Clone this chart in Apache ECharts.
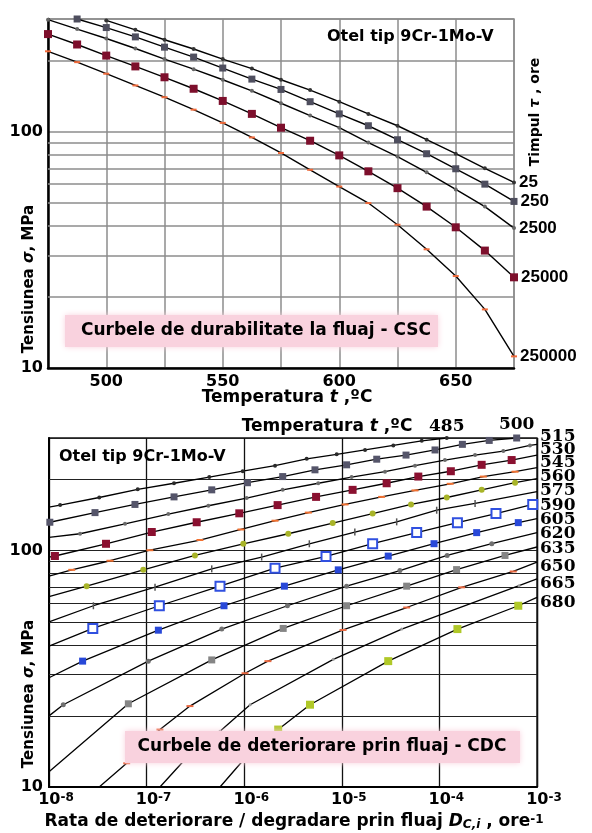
<!DOCTYPE html>
<html>
<head>
<meta charset="utf-8">
<script src="https://cdn.jsdelivr.net/npm/echarts@6/dist/echarts.min.js"></script>
<style>
html, body { margin: 0; padding: 0; background: #fff; }
#main { width: 592px; height: 833px; }
</style>
</head>
<body>
<div id="main"></div>
<script>
// ---- top chart: stress vs temperature, one curve per rupture time ----
var temps = [475, 487.5, 500, 512.5, 525, 537.5, 550, 562.5, 575, 587.5, 600, 612.5, 625, 637.5, 650, 662.5, 675];
var tau25 = [null, null, 296, 270, 245, 224, 203, 185, 166, 150, 134, 119, 106, 92.5, 80.7, 70, 61];
var tau250 = [null, 300, 276, 252, 228, 207, 186, 167, 151, 134, 119, 106, 92.5, 80.7, 69.7, 60, 50.7];
var tau2500 = [298, 272, 248, 225, 203, 184, 166, 149, 132, 117, 104, 90, 78.5, 67.3, 57, 48.2, 39.1];
var tau25000 = [259, 234, 210, 189, 170, 152, 135, 119, 104, 91.6, 79.4, 68, 57.7, 48.2, 39.4, 31.4, 24.2];
var tau250000 = [219, 197, 176, 157, 140, 124, 109, 94.6, 81.3, 69, 58.6, 49.9, 40.4, 31.8, 24.5, 17.7, 11.2];
var tauNames = ['25', '250', '2500', '25000', '250000'];

// minor gridlines (both charts)
var stressGrid = [20, 30, 40, 50, 60, 70, 80, 90, 200];

// ---- bottom chart: stress vs damage rate, one curve per temperature ----
var rate485 = [1e-8, 1.30e-8, 3.27e-8, 8.11e-8, 1.91e-7, 4.39e-7, 9.66e-7, 2.07e-6, 4.37e-6, 8.87e-6, 1.73e-5, 3.37e-5, 6.59e-5, 1.19e-4];
var stress485 = [153, 156, 168, 182, 193, 205, 217, 229, 245, 256, 267, 279, 292, 300];
var rate500 = [1.02e-8, 2.96e-8, 7.6e-8, 1.91e-7, 4.65e-7, 1.08e-6, 2.48e-6, 5.31e-6, 1.12e-5, 2.28e-5, 4.55e-5, 9.02e-5, 1.72e-4, 3.24e-4, 6.19e-4];
var stress500 = [132, 145, 157, 169, 181, 194, 206, 220, 231, 244, 254, 267, 282, 293, 300];
var rate515 = [1e-8, 2.08e-8, 6.01e-8, 1.67e-7, 4.29e-7, 1.06e-6, 2.48e-6, 5.74e-6, 1.26e-5, 2.77e-5, 5.62e-5, 1.14e-4, 2.32e-4, 4.52e-4, 8.47e-4, 1e-3];
var stress515 = [114, 118, 130, 143, 155, 167, 181, 193, 205, 216, 229, 242, 254, 264, 279, 282];
var rate530 = [1e-8, 1.15e-8, 3.84e-8, 1.13e-7, 3.26e-7, 8.91e-7, 2.2e-6, 5.45e-6, 1.29e-5, 2.88e-5, 6.08e-5, 1.31e-4, 2.71e-4, 5.5e-4, 1e-3];
var stress530 = [94, 95, 107, 120, 132, 144, 156, 169, 181, 193, 206, 217, 231, 242, 254];
var rate545 = [1e-8, 1.71e-8, 4.22e-8, 1.08e-7, 3.52e-7, 9.27e-7, 2.07e-6, 4.54e-6, 1.08e-5, 2.56e-5, 5.62e-5, 1.29e-4, 2.82e-4, 5.96e-4, 1e-3];
var stress545 = [78, 83, 90.7, 100.5, 111, 123, 134, 145, 157, 169, 180, 192, 206, 216, 225];
var rate560 = [1e-8, 2.43e-8, 9.25e-8, 3.13e-7, 9.8e-7, 2.83e-6, 8.07e-6, 2.07e-5, 5.12e-5, 1.19e-4, 2.71e-4, 5.96e-4, 1e-3];
var stress560 = [63.9, 70.8, 83, 95.5, 107, 118, 131, 143.6, 157, 168, 181, 194, 202];
var rate575 = [1e-8, 2.85e-8, 1.22e-7, 4.65e-7, 1.51e-6, 4.65e-6, 1.36e-5, 3.65e-5, 9.38e-5, 2.32e-4, 1e-3];
var stress575 = [50, 58.5, 70.1, 83.8, 94, 107, 120, 132.5, 148.4, 158.5, 178];
var rate590 = [1e-8, 2.81e-8, 1.35e-7, 5.65e-7, 2.07e-6, 6.89e-6, 2.07e-5, 5.85e-5, 1.53e-4, 3.8e-4, 9.04e-4, 1e-3];
var stress590 = [39.5, 46.9, 58.5, 70.8, 84.4, 94.6, 107.1, 119.3, 131.5, 143.6, 157, 158.5];
var rate605 = [1e-8, 2.21e-8, 1.32e-7, 6.21e-7, 2.58e-6, 9.2e-6, 2.99e-5, 8.81e-5, 2.41e-4, 6.43e-4, 1e-3];
var stress605 = [29, 34.1, 46.1, 58.5, 70.8, 83, 94.9, 107.1, 119.3, 131.5, 136.8];
var rate620 = [1e-8, 1.4e-8, 1.04e-7, 5.89e-7, 2.77e-6, 1.12e-5, 3.94e-5, 1.2e-4, 3.44e-4, 1e-3];
var stress620 = [20, 22.3, 34.1, 46.6, 58.5, 70.8, 82.4, 95.5, 107.1, 119.3];
var rate635 = [1e-8, 6.5e-8, 4.65e-7, 2.51e-6, 1.12e-5, 4.62e-5, 1.5e-4, 4.7e-4, 1e-3];
var stress635 = [11.6, 22.5, 34.5, 46.9, 58.5, 70.8, 83.2, 95.5, 103.7];
var rate650 = [3.27e-8, 6.25e-8, 1.37e-7, 2.78e-7, 1.02e-6, 1.75e-6, 1.03e-5, 4.62e-5, 1.69e-4, 5.71e-4, 1e-3];
var stress650 = [10, 12.6, 17.5, 22, 30.3, 34.1, 46.2, 57.5, 70, 81.7, 89.5];
var rate665 = [1.37e-7, 2.83e-7, 5.65e-7, 1.15e-6, 8.19e-6, 4.11e-5, 6.55e-4, 1e-3];
var stress665 = [10, 13.9, 17.2, 22.3, 34.7, 46.6, 71.1, 76];
var rate680 = [5.65e-7, 1.06e-6, 2.23e-6, 4.72e-6, 2.99e-5, 1.53e-4, 6.43e-4, 1e-3];
var stress680 = [10, 13.5, 17.5, 22.3, 34.1, 46.6, 58.5, 63.5];

var SANS = '"DejaVu Sans", sans-serif';
var ARIAL = '"Liberation Sans", Arial, sans-serif';
var SERIF = '"DejaVu Serif", serif';

var topStyles = [
  { symbol: 'circle', size: 4, color: '#333' },
  { symbol: 'rect', size: 7, color: '#4e4e5e' },
  { symbol: 'circle', size: 4, color: '#666' },
  { symbol: 'rect', size: 8, color: '#7d0f2c' },
  { symbol: 'rect', size: [6, 2], color: '#f06a3a' }
];

var bottomCurves = [
  { name: '485', rate: rate485, stress: stress485, symbol: 'circle', size: 4, color: '#2a2a2a', dy: 0 },
  { name: '500', rate: rate500, stress: stress500, symbol: 'rect', size: 7, color: '#55556a', dy: 0 },
  { name: '515', rate: rate515, stress: stress515, symbol: 'circle', size: 4, color: '#6a6a6a', dy: -8 },
  { name: '530', rate: rate530, stress: stress530, symbol: 'rect', size: 8, color: '#8a1030', dy: -6 },
  { name: '545', rate: rate545, stress: stress545, symbol: 'rect', size: [7, 2], color: '#f07030', dy: -5 },
  { name: '560', rate: rate560, stress: stress560, symbol: 'circle', size: 6, color: '#a8b428', dy: -2 },
  { name: '575', rate: rate575, stress: stress575, symbol: 'rect', size: [1.5, 7], color: '#555', dy: -1 },
  { name: '590', rate: rate590, stress: stress590, symbol: 'emptyRect', size: 9, color: '#3050e0', dy: 2 },
  { name: '605', rate: rate605, stress: stress605, symbol: 'rect', size: 7, color: '#2848d8', dy: 1 },
  { name: '620', rate: rate620, stress: stress620, symbol: 'circle', size: 5, color: '#707070', dy: 1 },
  { name: '635', rate: rate635, stress: stress635, symbol: 'rect', size: 7, color: '#858585', dy: 2 },
  { name: '650', rate: rate650, stress: stress650, symbol: 'rect', size: [7, 2], color: '#e86840', dy: 4 },
  { name: '665', rate: rate665, stress: stress665, symbol: 'circle', size: 3, color: '#999', dy: 5 },
  { name: '680', rate: rate680, stress: stress680, symbol: 'rect', size: 8, color: '#b0c828', dy: 5 }
];

var minorRates = [];
for (var e = -8; e < -3; e++) {
  for (var m = 2; m < 10; m++) minorRates.push(m * Math.pow(10, e));
}

var series = [];

// gridline carriers
series.push({
  type: 'line', xAxisIndex: 0, yAxisIndex: 0, data: [], silent: true,
  markLine: {
    silent: true, symbol: 'none', z: 1, animation: false, label: { show: false },
    lineStyle: { color: '#8c8c8c', width: 1.5, type: 'solid' },
    data: stressGrid.map(function (v) { return { yAxis: v }; })
  }
});
series.push({
  type: 'line', xAxisIndex: 1, yAxisIndex: 1, data: [], silent: true,
  markLine: {
    silent: true, symbol: 'none', z: 1, animation: false, label: { show: false },
    lineStyle: { color: '#bdbdbd', width: 1, type: 'solid' },
    data: minorRates.map(function (v) { return { xAxis: v }; })
  }
});
series.push({
  type: 'line', xAxisIndex: 1, yAxisIndex: 1, data: [], silent: true,
  markLine: {
    silent: true, symbol: 'none', z: 1, animation: false, label: { show: false },
    lineStyle: { color: '#222', width: 1, type: 'solid' },
    data: stressGrid.map(function (v) { return { yAxis: v }; })
  }
});

[tau25, tau250, tau2500, tau25000, tau250000].forEach(function (vals, i) {
  var st = topStyles[i];
  var pts = [];
  temps.forEach(function (t, k) { if (vals[k] != null) pts.push({ value: [t, vals[k]] }); });
  pts[pts.length - 1].label = {
    show: true, position: 'right', distance: 3, formatter: tauNames[i],
    color: '#000', fontFamily: ARIAL, fontWeight: 'bold', fontSize: 17
  };
  series.push({
    type: 'line', name: tauNames[i], xAxisIndex: 0, yAxisIndex: 0, data: pts,
    symbol: st.symbol, symbolSize: st.size, showSymbol: true, clip: false,
    itemStyle: { color: st.color, borderWidth: 0 },
    lineStyle: { color: '#000', width: 1.4 },
    z: 3, animation: false
  });
});

bottomCurves.forEach(function (c) {
  var data = c.rate.map(function (r, k) {
    var item = { value: [r, c.stress[k]] };
    if (r <= 1e-8 || r >= 1e-3 || c.stress[k] <= 10) item.symbolSize = 0;
    return item;
  });
  var last = data[data.length - 1];
  var atTop = c.stress[c.stress.length - 1] >= 300;
  last.label = {
    show: true, position: atTop ? 'top' : 'right', distance: atTop ? 1 : 3,
    offset: atTop ? [0, 0] : [0, c.dy], formatter: c.name,
    color: '#000', fontFamily: SERIF, fontWeight: 'bold', fontSize: 17
  };
  series.push({
    type: 'line', name: c.name, xAxisIndex: 1, yAxisIndex: 1, data: data,
    symbol: c.symbol, symbolSize: c.size, showSymbol: true, clip: false,
    itemStyle: c.symbol === 'emptyRect'
      ? { color: c.color, borderColor: c.color, borderWidth: 1.2 }
      : { color: c.color, borderWidth: 0 },
    lineStyle: { color: '#000', width: 1.3 },
    z: 3, animation: false
  });
});

var labelFont = { color: '#000', fontFamily: SANS, fontWeight: 'bold', fontSize: 16 };
function decadeLabel(v) { var r = Math.round(v); return (r === 10 || r === 100) ? String(r) : ''; }
function italicRich(size) { return { i: { font: 'italic bold ' + size + 'px ' + SANS, fill: '#000' } }; }

var option = {
  animation: false,
  backgroundColor: '#fff',
  grid: [
    { left: 48, top: 19, width: 466, height: 349, show: true, borderColor: '#8c8c8c', borderWidth: 1.5 },
    { left: 49, top: 438, width: 488, height: 349, show: true, borderColor: '#111', borderWidth: 1.3 }
  ],
  xAxis: [
    {
      gridIndex: 0, type: 'value', min: 475, max: 675, interval: 25,
      axisLine: { show: true, lineStyle: { color: '#000', width: 2.5 } },
      axisTick: { show: false },
      axisLabel: Object.assign({ margin: 6, formatter: function (v) { return v % 50 === 0 ? String(v) : ''; } }, labelFont),
      splitLine: { show: true, lineStyle: { color: '#8c8c8c', width: 1.5 } }
    },
    {
      gridIndex: 1, type: 'log', logBase: 10, min: 1e-8, max: 1e-3,
      axisLine: { show: true, lineStyle: { color: '#000', width: 2 } },
      axisTick: { show: false },
      axisLabel: {
        margin: 5,
        formatter: function (v) { return '{b|10}{s|' + Math.round(Math.log10(v)) + '}'; },
        rich: {
          b: { color: '#000', fontFamily: SANS, fontWeight: 'bold', fontSize: 16, padding: [0, 0, 0, 14] },
          s: { color: '#000', fontFamily: SANS, fontWeight: 'bold', fontSize: 12, verticalAlign: 'top' }
        }
      },
      splitLine: { show: true, lineStyle: { color: '#111', width: 1.3 } }
    }
  ],
  yAxis: [
    {
      gridIndex: 0, type: 'log', logBase: 10, min: 10, max: 300,
      axisLine: { show: true, lineStyle: { color: '#000', width: 2.5 } },
      axisTick: { show: false },
      axisLabel: Object.assign({ margin: 5, formatter: decadeLabel }, labelFont),
      splitLine: { show: true, lineStyle: { color: '#8c8c8c', width: 1.5 } }
    },
    {
      gridIndex: 1, type: 'log', logBase: 10, min: 10, max: 300,
      axisLine: { show: true, lineStyle: { color: '#000', width: 2 } },
      axisTick: { show: false },
      axisLabel: Object.assign({ margin: 6, formatter: decadeLabel }, labelFont),
      splitLine: { show: true, lineStyle: { color: '#222', width: 1 } }
    }
  ],
  series: series,
  graphic: [
    // top chart texts
    { type: 'text', x: 327, y: 37, z: 100, style: { text: 'Otel tip 9Cr-1Mo-V', fill: '#000', font: 'bold 16px ' + SANS, align: 'left', verticalAlign: 'middle' } },
    { type: 'text', x: 535, y: 112, z: 100, rotation: Math.PI / 2, style: {
      text: 'Timpul {i|τ} , ore', fill: '#000', font: 'bold 14px ' + SANS, align: 'center', verticalAlign: 'middle', rich: italicRich(14) } },
    { type: 'text', x: 29, y: 279, z: 100, rotation: Math.PI / 2, style: {
      text: 'Tensiunea {i|σ}, MPa', fill: '#000', font: 'bold 15px ' + SANS, align: 'center', verticalAlign: 'middle', rich: italicRich(15) } },
    { type: 'text', x: 287, y: 398, z: 100, style: {
      text: 'Temperatura {i|t} ,ºC', fill: '#000', font: 'bold 17px ' + SANS, align: 'center', verticalAlign: 'middle', rich: italicRich(17) } },
    { type: 'rect', z: 100, shape: { x: 65, y: 315, width: 373, height: 32 }, style: { fill: '#f9d2de', shadowBlur: 6, shadowColor: '#f9d2de' } },
    { type: 'text', x: 256, y: 331, z: 101, style: { text: 'Curbele de durabilitate la fluaj - CSC', fill: '#000', font: 'bold 17px ' + SANS, align: 'center', verticalAlign: 'middle' } },

    // bottom chart texts
    { type: 'text', x: 327, y: 427, z: 100, style: {
      text: 'Temperatura {i|t} ,ºC', fill: '#000', font: 'bold 17px ' + SANS, align: 'center', verticalAlign: 'middle', rich: italicRich(17) } },
    { type: 'text', x: 59, y: 457, z: 100, style: { text: 'Otel tip 9Cr-1Mo-V', fill: '#000', font: 'bold 16px ' + SANS, align: 'left', verticalAlign: 'middle' } },
    { type: 'text', x: 29, y: 694, z: 100, rotation: Math.PI / 2, style: {
      text: 'Tensiunea {i|σ}, MPa', fill: '#000', font: 'bold 15px ' + SANS, align: 'center', verticalAlign: 'middle', rich: italicRich(15) } },
    { type: 'text', x: 294, y: 822, z: 100, style: {
      text: 'Rata de deteriorare / degradare prin fluaj {i|D}{sub|C,i} , ore{sup|-1}', fill: '#000', font: 'bold 17px ' + SANS,
      align: 'center', verticalAlign: 'middle',
      rich: {
        i: { font: 'italic bold 17px ' + SANS, fill: '#000' },
        sub: { font: 'italic bold 12px ' + SANS, fill: '#000', verticalAlign: 'bottom' },
        sup: { font: 'bold 12px ' + SANS, fill: '#000', verticalAlign: 'top' }
      } } },
    { type: 'rect', z: 100, shape: { x: 125, y: 731, width: 395, height: 32 }, style: { fill: '#f9d2de', shadowBlur: 6, shadowColor: '#f9d2de' } },
    { type: 'text', x: 322, y: 747, z: 101, style: { text: 'Curbele de deteriorare prin fluaj - CDC', fill: '#000', font: 'bold 17px ' + SANS, align: 'center', verticalAlign: 'middle' } }
  ]
};

var chart = echarts.init(document.getElementById('main'), null, { renderer: 'canvas' });
chart.setOption(option);
</script>
</body>
</html>
